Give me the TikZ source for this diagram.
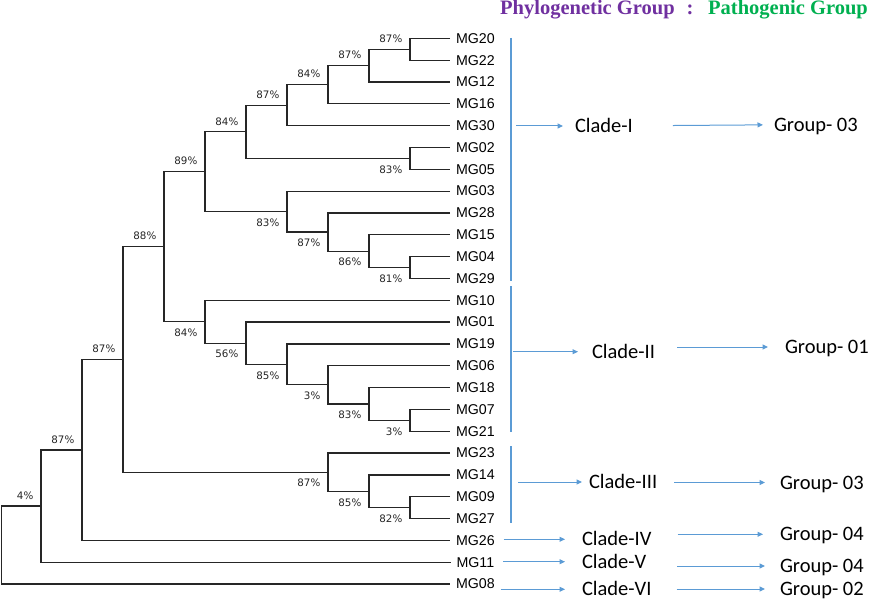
\documentclass[tikz,border=0pt]{standalone}
\usepackage{fontspec}
\usetikzlibrary{positioning,arrows.meta}
\newfontfamily\leaffont{Liberation Sans}
\newfontfamily\bsfont{DejaVu Sans}
\newfontfamily\cladefont{Carlito}
\newfontfamily\headfont{Liberation Serif}
\definecolor{brkblue}{RGB}{91,155,213}
\definecolor{phylo}{RGB}{112,48,160}
\definecolor{patho}{RGB}{0,176,80}

\begin{document}
\begin{tikzpicture}[x=1pt,y=-1pt,
		declare function={row(\i)=38.3+21.83*\i;},
		tree/.style={draw=black!85,line width=1.2pt},
		leaf/.style={font=\leaffont\fontsize{14.2}{16}\selectfont,inner xsep=6pt,inner ysep=0pt,outer sep=0pt,minimum height=21.83pt,node distance=0pt},
		bs/.style={font=\bsfont\fontsize{10.3}{12}\selectfont,text=black!85,inner sep=0pt,anchor=east,xshift=-7.5pt},
		bsup/.style={bs,yshift=10.5pt},
		bsdn/.style={bs,yshift=-11pt},
		brk/.style={draw=brkblue,line width=1.2pt},
		arr/.style={draw=brkblue,line width=1pt,-{Triangle[length=5.5pt,width=5pt]}},
		clade/.style={font=\cladefont\fontsize{20.5}{24}\selectfont,anchor=west,inner sep=0pt,outer sep=0pt,text height=13.3pt,text depth=0pt},
		head/.style={font=\headfont\bfseries\fontsize{20.5}{24}\selectfont,anchor=base west,inner sep=0pt}]

		\useasboundingbox (0,0) rectangle (881,604);

		\node[leaf,anchor=west] 		(MG20)	at (450,38.3) {MG20};
		\node[leaf,below=of MG20] 	(MG22)	{MG22};
		\node[leaf,below=of MG22] 	(MG12)	{MG12};
		\node[leaf,below=of MG12] 	(MG16)	{MG16};
		\node[leaf,below=of MG16] 	(MG30)	{MG30};
		\node[leaf,below=of MG30] 	(MG02)	{MG02};
		\node[leaf,below=of MG02] 	(MG05)	{MG05};
		\node[leaf,below=of MG05] 	(MG03)	{MG03};
		\node[leaf,below=of MG03] 	(MG28)	{MG28};
		\node[leaf,below=of MG28] 	(MG15)	{MG15};
		\node[leaf,below=of MG15] 	(MG04)	{MG04};
		\node[leaf,below=of MG04] 	(MG29)	{MG29};
		\node[leaf,below=of MG29] 	(MG10)	{MG10};
		\node[leaf,below=of MG10] 	(MG01)	{MG01};
		\node[leaf,below=of MG01] 	(MG19)	{MG19};
		\node[leaf,below=of MG19] 	(MG06)	{MG06};
		\node[leaf,below=of MG06] 	(MG18)	{MG18};
		\node[leaf,below=of MG18] 	(MG07)	{MG07};
		\node[leaf,below=of MG07] 	(MG21)	{MG21};
		\node[leaf,below=of MG21] 	(MG23)	{MG23};
		\node[leaf,below=of MG23] 	(MG14)	{MG14};
		\node[leaf,below=of MG14] 	(MG09)	{MG09};
		\node[leaf,below=of MG09] 	(MG27)	{MG27};
		\node[leaf,below=of MG27] 	(MG26)	{MG26};
		\node[leaf,below=of MG26] 	(MG11)	{MG11};
		\node[leaf,below=of MG11] 	(MG08)	{MG08};

		\coordinate (a1)	at (410,{row(0.5)});
		\coordinate (a2)	at (369,{row(1.25)});
		\coordinate (a3)	at (328,{row(2.125)});
		\coordinate (a4)	at (287,{row(3.0625)});
		\coordinate (a5)	at (410,{row(5.5)});
		\coordinate (a6)	at (246,{row(4.281)});
		\coordinate (a7)	at (410,{row(10.5)});
		\coordinate (a8)	at (369,{row(9.75)});
		\coordinate (a9)	at (328,{row(8.875)});
		\coordinate (a10)	at (287,{row(7.9375)});
		\coordinate (a11)	at (205,{row(6.109)});
		\coordinate (b1)	at (410,{row(17.5)});
		\coordinate (b2)	at (369,{row(16.75)});
		\coordinate (b3)	at (328,{row(15.875)});
		\coordinate (b4)	at (287,{row(14.9375)});
		\coordinate (b5)	at (246,{row(13.969)});
		\coordinate (b6)	at (205,{row(12.984)});
		\coordinate (c1)	at (164,{row(9.547)});
		\coordinate (d1)	at (410,{row(21.5)});
		\coordinate (d2)	at (369,{row(20.75)});
		\coordinate (d3)	at (328,{row(19.875)});
		\coordinate (r3)	at (123,{row(14.711)});
		\coordinate (r2)	at (82,{row(18.855)});
		\coordinate (r1)	at (41,{row(21.428)});
		\coordinate (r0)	at (1.5,{row(23.214)});

		\draw[tree] (MG20) -| (a1) |- (MG22);
		\draw[tree] (a1) -| (a2) |- (MG12);
		\draw[tree] (a2) -| (a3) |- (MG16);
		\draw[tree] (a3) -| (a4) |- (MG30);
		\draw[tree] (MG02) -| (a5) |- (MG05);
		\draw[tree] (a4) -| (a6) |- (a5);
		\draw[tree] (MG04) -| (a7) |- (MG29);
		\draw[tree] (MG15) -| (a8) |- (a7);
		\draw[tree] (MG28) -| (a9) |- (a8);
		\draw[tree] (MG03) -| (a10) |- (a9);
		\draw[tree] (a6) -| (a11) |- (a10);
		\draw[tree] (MG07) -| (b1) |- (MG21);
		\draw[tree] (MG18) -| (b2) |- (b1);
		\draw[tree] (MG06) -| (b3) |- (b2);
		\draw[tree] (MG19) -| (b4) |- (b3);
		\draw[tree] (MG01) -| (b5) |- (b4);
		\draw[tree] (MG10) -| (b6) |- (b5);
		\draw[tree] (a11) -| (c1) |- (b6);
		\draw[tree] (MG09) -| (d1) |- (MG27);
		\draw[tree] (MG14) -| (d2) |- (d1);
		\draw[tree] (MG23) -| (d3) |- (d2);
		\draw[tree] (c1) -| (r3) |- (d3);
		\draw[tree] (r3) -| (r2) |- (MG26);
		\draw[tree] (r2) -| (r1) |- (MG11);
		\draw[tree] (r1) -| (r0) |- (MG08);

		\node[bsup] (s1)	at (a1)		{87\%};
		\node[bsup] (s2)	at (a2)		{87\%};
		\node[bsup] (s3)	at (a3)		{84\%};
		\node[bsup] (s4)	at (a4)		{87\%};
		\node[bsdn] (s5)	at (a5)		{83\%};
		\node[bsup] (s6)	at (a6)		{84\%};
		\node[bsdn] (s7)	at (a7)		{81\%};
		\node[bsdn] (s8)	at (a8)		{86\%};
		\node[bsdn] (s9)	at (a9)		{87\%};
		\node[bsdn] (s10)	at (a10)	{83\%};
		\node[bsup] (s11)	at (a11)	{89\%};
		\node[bsdn] (s12)	at (b1)		{3\%};
		\node[bsdn] (s13)	at (b2)		{83\%};
		\node[bsdn] (s14)	at (b3)		{3\%};
		\node[bsdn] (s15)	at (b4)		{85\%};
		\node[bsdn] (s16)	at (b5)		{56\%};
		\node[bsdn] (s17)	at (b6)		{84\%};
		\node[bsup] (s18)	at (c1)		{88\%};
		\node[bsdn] (s19)	at (d1)		{82\%};
		\node[bsdn] (s20)	at (d2)		{85\%};
		\node[bsdn] (s21)	at (d3)		{87\%};
		\node[bsup] (s22)	at (r3)		{87\%};
		\node[bsup] (s23)	at (r2)		{87\%};
		\node[bsup] (s24)	at (r1)		{4\%};

		\coordinate (k1a) at (511,38);
		\coordinate (k1b) at (511,281);
		\coordinate (k2a) at (511,286);
		\coordinate (k2b) at (511,432);
		\coordinate (k3a) at (511,446);
		\coordinate (k3b) at (511,523);
		\draw[brk] (k1a) -- (k1b);
		\draw[brk] (k2a) -- (k2b);
		\draw[brk] (k3a) -- (k3b);

		\node[clade] (cl1)	at (575,126)	{Clade-I};
		\node[clade] (cl2)	at (592,351.7)	{Clade-II};
		\node[clade] (cl3)	at (589,482)	{Clade-III};
		\node[clade] (cl4)	at (582,539.3)	{Clade-IV};
		\node[clade] (cl5)	at (582,561.7)	{Clade-V};
		\node[clade] (cl6)	at (582,589.3)	{Clade-VI};

		\node[clade] (gr1)	at (774,124.5)	{Group- 03};
		\node[clade] (gr2)	at (785,347)	{Group- 01};
		\node[clade] (gr3)	at (780,482.5)	{Group- 03};
		\node[clade] (gr4)	at (780,534.3)	{Group- 04};
		\node[clade] (gr5)	at (780,566)	{Group- 04};
		\node[clade] (gr6)	at (780,589)	{Group- 02};

		\draw[arr,shorten <=5pt,shorten >=12pt] (k1a |- cl1) -- (cl1);
		\draw[arr,shorten <=2pt,shorten >=14pt] (k2a |- cl2) -- (cl2);
		\draw[arr,shorten <=7pt,shorten >=7pt] (k3a |- cl3) -- (cl3);
		\draw[arr,shorten <=3pt,shorten >=17pt] (MG26.east |- cl4) -- (cl4);
		\draw[arr,shorten <=3pt,shorten >=17pt] (MG11.east |- cl5) -- (cl5);
		\draw[arr,shorten <=0pt,shorten >=17pt] (MG08.east |- cl6) -- (cl6);

		\draw[arr,shorten <=40pt,shorten >=11pt] (cl1) -- (gr1);
		\draw[arr,shorten <=22pt,shorten >=17pt] (cl2.east |- gr2) -- (gr2);
		\draw[arr,shorten <=17pt,shorten >=15pt] (cl3.east |- gr3) -- (gr3);
		\draw[arr,shorten <=26pt,shorten >=17pt] (cl4.east |- gr4) -- (gr4);
		\draw[arr,shorten <=31pt,shorten >=15pt] (cl5.east |- gr5) -- (gr5);
		\draw[arr,shorten <=25pt,shorten >=15pt] (cl6.east |- gr6) -- (gr6);

		\node[head,text=phylo] (hd1)	at (500,15)	{Phylogenetic Group\hspace{12pt}:};
		\node[head,text=patho] (hd2)	at (708,15)	{Pathogenic Group};
	\end{tikzpicture}
\end{document}
